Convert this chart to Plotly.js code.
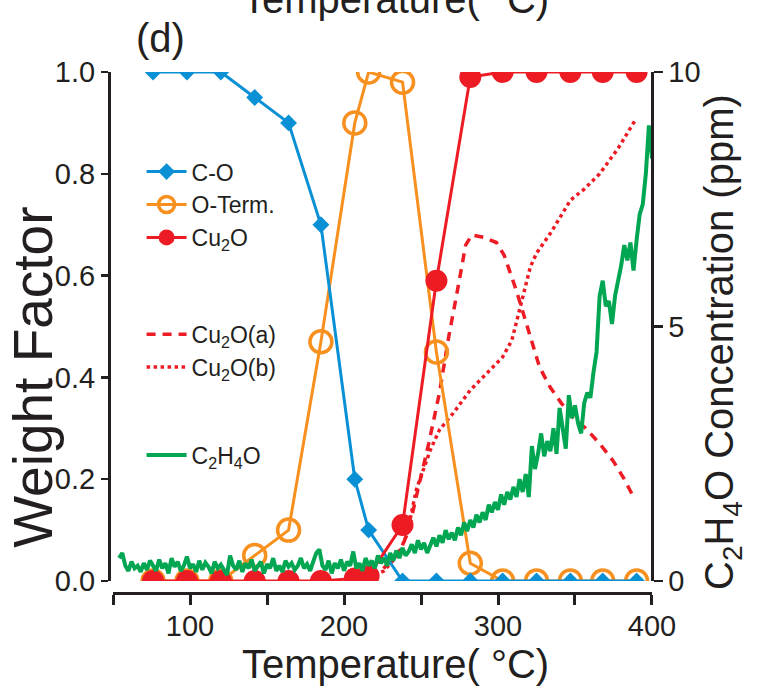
<!DOCTYPE html>
<html>
<head>
<meta charset="utf-8">
<script src="https://cdn.plot.ly/plotly-3.0.1.min.js"></script>
<style>
  html, body { margin: 0; padding: 0; background: #fff; }
  #chart { width: 768px; height: 687px; }
</style>
</head>
<body>
<div id="chart"></div>
<script>
// Temperature steps of the fitted spectra (°C)
const temps = [76, 98, 120, 142, 164, 185, 207, 216, 238, 260, 282, 303, 325, 347, 368, 390];

// Weight factors of the three reference components
const wCO    = [1, 1, 1, 0.95, 0.90, 0.70, 0.20, 0.10, 0, 0, 0, 0, 0, 0, 0, 0];
const wOTerm = [0, 0, 0, 0.05, 0.10, 0.47, 0.90, 1.00, 0.98, 0.45, 0.035, 0, 0, 0, 0, 0];
const wCu2O  = [0, 0, 0, 0, 0, 0, 0.005, 0.01, 0.11, 0.59, 0.99, 1, 1, 1, 1, 1];

// Cu2O sub-components
const tCu2Oa = [207, 216, 224, 234, 238, 242, 248, 255, 262, 268, 273, 279, 283, 291, 299, 304, 312, 320, 327, 334, 341, 349, 357, 366, 375, 382, 388];
const wCu2Oa = [0, 0.005, 0.02, 0.05, 0.07, 0.10, 0.18, 0.27, 0.37, 0.48, 0.56, 0.66, 0.68, 0.675, 0.665, 0.64, 0.57, 0.49, 0.42, 0.38, 0.35, 0.32, 0.30, 0.27, 0.235, 0.20, 0.165];
const tCu2Ob = [216, 226, 236, 241, 247, 256, 262, 271, 282, 293, 303, 309, 314, 321, 325, 334, 342, 347, 356, 366, 378, 389];
const wCu2Ob = [0.005, 0.02, 0.055, 0.094, 0.18, 0.257, 0.297, 0.33, 0.375, 0.41, 0.44, 0.473, 0.532, 0.617, 0.644, 0.683, 0.723, 0.748, 0.77, 0.80, 0.85, 0.905];

// Mass-spec C2H4O signal (ppm)
const tGas = [54, 56, 58, 60, 62, 64, 66, 68, 70, 72, 74, 76, 78, 80, 82, 84, 86, 88, 90, 92, 94, 96, 98, 100,
  102, 104, 106, 108, 110, 112, 114, 116, 118, 120, 122, 124, 126, 128, 130, 132, 134, 136, 138, 140, 142, 144, 146, 148, 150,
  152, 154, 156, 158, 160, 162, 164, 166, 168, 170, 172, 174, 176, 178, 180, 182, 184, 186, 188, 190, 192, 194, 196, 198, 200,
  202, 204, 206, 208, 210, 212, 214, 216, 218, 220, 222, 224, 226, 228, 230, 232, 234, 236, 238, 240, 242, 244, 246, 248, 250,
  252, 254, 256, 258, 260, 262, 264, 266, 268, 270, 272, 274, 276, 278, 280, 282, 284, 286, 288, 290, 292, 294, 296, 298, 300,
  302, 304, 306, 308, 310, 312, 314, 316, 318, 320, 322, 324, 326, 328, 330, 332, 334, 336, 338, 340, 342, 344, 346, 348, 350,
  352, 354, 356, 358, 360, 362, 364, 366, 368, 370, 372, 374, 376, 378, 380, 382, 384, 386, 388, 390, 392, 394, 396, 398, 400];
const cGas = [0.45, 0.55, 0.30, 0.20, 0.38, 0.25, 0.30, 0.18, 0.35, 0.22, 0.40, 0.28, 0.20, 0.42, 0.25, 0.35, 0.15, 0.45, 0.28, 0.38, 0.20, 0.30, 0.48, 0.25,
  0.33, 0.18, 0.40, 0.22, 0.36, 0.28, 0.15, 0.38, 0.25, 0.32, 0.20, 0.12, 0.50, 0.30, 0.22, 0.40, 0.18, 0.35, 0.25, 0.42, 0.20, 0.30, 0.38, 0.15, 0.33,
  0.25, 0.45, 0.20, 0.30, 0.18, 0.40, 0.28, 0.35, 0.22, 0.30, 0.45, 0.25, 0.33, 0.20, 0.38, 0.55, 0.62, 0.30, 0.22, 0.40, 0.15, 0.35, 0.25, 0.42, 0.20,
  0.38, 0.30, 0.58, 0.25, 0.35, 0.20, 0.45, 0.30, 0.40, 0.25, 0.50, 0.35, 0.45, 0.30, 0.55, 0.40, 0.60, 0.45, 0.65, 0.50, 0.58, 0.72, 0.55, 0.80, 0.62,
  0.75, 0.55, 0.70, 0.85, 0.68, 0.90, 0.75, 1.00, 0.82, 0.95, 0.80, 1.05, 0.90, 1.15, 0.98, 1.20, 1.05, 1.30, 1.15, 1.35, 1.20, 1.50, 1.35, 1.55, 1.40,
  1.70, 1.50, 1.75, 1.60, 1.85, 1.65, 2.00, 1.75, 2.10, 1.65, 2.65, 2.20, 2.50, 2.90, 2.45, 2.75, 2.55, 3.00, 2.50, 3.40, 2.95, 2.60, 3.65, 3.20, 3.45,
  3.10, 2.90, 3.50, 3.70, 3.60, 4.10, 4.50, 5.60, 5.90, 5.40, 5.50, 5.05, 5.60, 5.90, 6.20, 6.60, 6.30, 6.65, 6.10, 6.70, 7.20, 7.40, 8.00, 8.95, 8.30];

// Axis ticks
const xTicks = [50, 100, 150, 200, 250, 300, 350, 400];
const xTickText = ['', '100', '', '200', '', '300', '', '400'];
const yTicks = [0, 0.2, 0.4, 0.6, 0.8, 1.0];
const y2Ticks = [0, 5, 10];

const INK = '#231f20';
const BLUE = '#0a90d4';
const ORANGE = '#f7901e';
const RED = '#ed1c24';
const GREEN = '#00a651';
const FONT = 'Liberation Sans, Arial, sans-serif';

const traces = [
  {
    x: tGas, y: cGas, yaxis: 'y2', type: 'scatter', mode: 'lines',
    name: 'C<sub>2</sub>H<sub>4</sub>O', legend: 'legend3',
    line: { color: GREEN, width: 4 }
  },
  {
    x: tCu2Oa, y: wCu2Oa, type: 'scatter', mode: 'lines',
    name: 'Cu<sub>2</sub>O(a)', legend: 'legend2', legendrank: 1,
    line: { color: RED, width: 3.5, dash: '9px,7px' }
  },
  {
    x: tCu2Ob, y: wCu2Ob, type: 'scatter', mode: 'lines',
    name: 'Cu<sub>2</sub>O(b)', legend: 'legend2', legendrank: 2,
    line: { color: RED, width: 3.5, dash: '3.5px,3.5px' }
  },
  {
    x: temps, y: wOTerm, type: 'scatter', mode: 'lines+markers',
    name: 'O-Term.', legend: 'legend', legendrank: 2,
    line: { color: ORANGE, width: 3 },
    marker: { symbol: 'circle-open', size: 22, color: ORANGE, line: { color: ORANGE, width: 3.5 } }
  },
  {
    x: temps, y: wCO, type: 'scatter', mode: 'lines+markers',
    name: 'C-O', legend: 'legend', legendrank: 1,
    line: { color: BLUE, width: 3 },
    marker: { symbol: 'diamond', size: 13, color: BLUE }
  },
  {
    x: temps, y: wCu2O, type: 'scatter', mode: 'lines+markers',
    name: 'Cu<sub>2</sub>O', legend: 'legend', legendrank: 3,
    line: { color: RED, width: 3 },
    marker: { symbol: 'circle', size: 22, color: RED }
  }
];

// plot area: x 109..652 px, y 72..593 px
const legendCommon = {
  bgcolor: 'rgba(0,0,0,0)', borderwidth: 0,
  font: { family: FONT, size: 23, color: INK },
  xanchor: 'left', yanchor: 'top', traceorder: 'normal', itemwidth: 40
};

const layout = {
  width: 768, height: 687,
  margin: { l: 109, r: 116, t: 72, b: 94, pad: 0 },
  paper_bgcolor: '#ffffff', plot_bgcolor: 'rgba(0,0,0,0)',
  font: { family: FONT, color: INK },
  showlegend: true,
  xaxis: {
    domain: [0.0074, 1], range: [50, 400], anchor: 'free', position: 0,
    tickmode: 'array', tickvals: xTicks, ticktext: xTickText,
    ticks: 'outside', ticklen: 10, tickwidth: 3, tickcolor: INK,
    showline: true, linewidth: 3, linecolor: INK, showgrid: false, zeroline: false,
    tickfont: { family: FONT, size: 29, color: INK }, ticklabelstandoff: -4
  },
  yaxis: {
    domain: [0.023, 1], range: [0, 1], anchor: 'free', position: 0,
    tickmode: 'array', tickvals: yTicks, tickformat: '.1f',
    ticks: 'outside', ticklen: 7, tickwidth: 2.5, tickcolor: INK,
    showline: true, linewidth: 2.5, linecolor: INK, showgrid: false, zeroline: false,
    tickfont: { family: FONT, size: 29, color: INK }
  },
  yaxis2: {
    overlaying: 'y', side: 'right', range: [0, 10], anchor: 'free', position: 1,
    tickmode: 'array', tickvals: y2Ticks,
    ticks: 'outside', ticklen: 9, tickwidth: 2.5, tickcolor: INK,
    showline: true, linewidth: 2.5, linecolor: INK, showgrid: false, zeroline: false,
    tickfont: { family: FONT, size: 29, color: INK }
  },
  legend: Object.assign({}, legendCommon, { x: 0.06, y: 0.85 }),
  legend2: Object.assign({}, legendCommon, { x: 0.06, y: 0.538 }),
  legend3: Object.assign({}, legendCommon, { x: 0.06, y: 0.306 }),
  annotations: [
    {
      text: '(d)', xref: 'paper', yref: 'paper', x: 0.094, y: 1.065,
      xanchor: 'center', yanchor: 'middle', showarrow: false,
      font: { family: FONT, size: 40, color: INK }
    },
    {
      // axis title of the panel above, running off the top edge
      text: 'Temperature( °C)', xref: 'paper', yref: 'paper', x: 0.527, y: 1.094,
      xanchor: 'center', yanchor: 'bottom', showarrow: false,
      font: { family: FONT, size: 40, color: INK }
    },
    {
      // x-axis title
      text: 'Temperature( °C)', xref: 'paper', yref: 'paper', x: 0.527, y: -0.09,
      xanchor: 'center', yanchor: 'top', showarrow: false,
      font: { family: FONT, size: 40, color: INK }
    },
    {
      // left y-axis title
      text: 'Weight Factor', xref: 'paper', yref: 'paper', x: -0.139, y: 0.414,
      xanchor: 'center', yanchor: 'middle', textangle: -90, showarrow: false,
      font: { family: FONT, size: 55, color: INK }
    },
    {
      // right y-axis title
      text: 'C<sub>2</sub>H<sub>4</sub>O Concentration (ppm)', xref: 'paper', yref: 'paper', x: 1.13, y: 0.481,
      xanchor: 'center', yanchor: 'middle', textangle: -90, showarrow: false,
      font: { family: FONT, size: 40, color: INK }
    }
  ]
};

Plotly.newPlot('chart', traces, layout, { displayModeBar: false, staticPlot: true });
</script>
</body>
</html>
